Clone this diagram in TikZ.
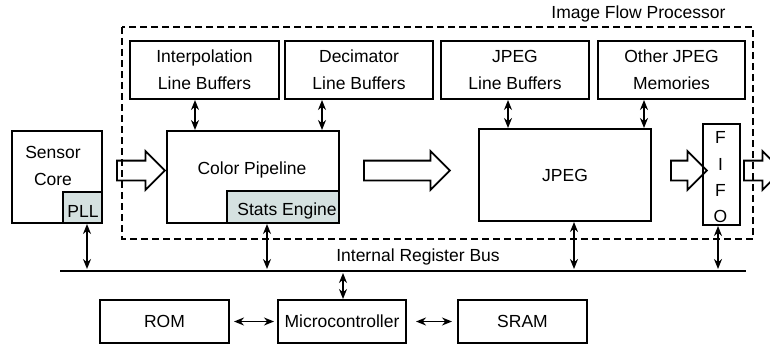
\documentclass[tikz,border=0pt]{standalone}
\usepackage{fontspec}
\setmainfont{Liberation Sans}
\usetikzlibrary{shapes.arrows, arrows.meta, positioning, calc}
\definecolor{statsgray}{RGB}{213, 225, 224}

\begin{document}
\begin{tikzpicture}[
  x=1pt, y=-1pt,
  every node/.style={font=\fontsize{17.5}{27}\selectfont},
  box/.style={draw, line width=2pt, anchor=north west, inner sep=0pt, align=center},
  subbox/.style={box, fill=statsgray},
  flowarrow/.style={single arrow, draw, line width=1.8pt, inner xsep=0pt, inner ysep=9pt,
    single arrow head extend=9.5pt, single arrow tip angle=90, minimum width=37pt},
  dbl/.style={{Stealth[length=10pt, width=8pt]}-{Stealth[length=10pt, width=8pt]}, line width=1.7pt}
]
  \useasboundingbox (0,0) rectangle (770,345);

  % Image flow processor frame
  \draw[dashed, dash pattern=on 7pt off 4pt, line width=1.5pt] (122,27) rectangle (753,239);
  \node[anchor=east] (ifplbl) at (729,14) {Image Flow Processor};

  % Memories on top
  \node[box, minimum width=149pt, minimum height=58pt] (interp) at (129,40) {Interpolation\\Line Buffers};
  \node[box, minimum width=148pt, minimum height=58pt] (decim) at (284,40) {Decimator\\Line Buffers};
  \node[box, minimum width=148pt, minimum height=58pt] (jpeglb) at (440,40) {JPEG\\Line Buffers};
  \node[box, minimum width=147pt, minimum height=58pt] (othermem) at (597,40) {Other JPEG\\Memories};

  % Sensor core
  \node[box, minimum width=90pt, minimum height=92pt] (sensor) at (11,130) {};
  \node (sensorlbl) at (53,166) [align=center] {Sensor\\Core};
  \node[subbox, minimum width=39pt, minimum height=31pt] (pll) at (62,191) {};
  \node (plllbl) at (83,211) {PLL};

  % Color pipeline
  \node[box, minimum width=172pt, minimum height=92pt] (color) at (166,130) {};
  \node (colorlbl) at (252,170) {Color Pipeline};
  \node[subbox, minimum width=112pt, minimum height=32pt] (stats) at (226,190) {};
  \node (statslbl) at (287,211) {Stats Engine};

  % JPEG and FIFO
  \node[box, minimum width=172pt, minimum height=92pt] (jpeg) at (478,128) {JPEG};
  \node[box, minimum width=37pt, minimum height=101pt] (fifo) at (702,123) {};
  \node (fifolbl) at (720.5,177.5) [align=center, font=\fontsize{17.5}{26.3}\selectfont] {F\\I\\F\\O};

  % Data flow
  \node[flowarrow, minimum height=48pt] (flow1) at (136,170.5) {};
  \node[flowarrow, minimum height=86pt] (flow2) at (402,170.5) {};
  \node[flowarrow, minimum height=36pt] (flow3) at (684,170.5) {};
  \node[flowarrow, minimum height=38pt] (flow4) at (758,170.5) {};

  % Memory accesses
  \draw[dbl] (interp.south -| 195,0) -- (color.north -| 195,0);
  \draw[dbl] (decim.south -| 322,0) -- (color.north -| 322,0);
  \draw[dbl] (jpeglb.south -| 508,0) -- (jpeg.north -| 508,0);
  \draw[dbl] (othermem.south -| 644,0) -- (jpeg.north -| 644,0);

  % Register bus
  \coordinate (busL) at (60,271);
  \coordinate (busR) at (746,271);
  \draw[line width=1.7pt] (busL) -- (busR);
  \node (buslbl) at (418,257) {Internal Register Bus};
  \draw[dbl] (pll.south -| 87,0) -- ($(busL -| 87,0)+(0,-2)$);
  \draw[dbl] (stats.south -| 267,0) -- ($(busL -| 267,0)+(0,-2)$);
  \draw[dbl] (jpeg.south -| 574,0) -- ($(busL -| 574,0)+(0,-2)$);
  \draw[dbl] (fifo.south -| 718,0) -- ($(busL -| 718,0)+(0,-2)$);

  % Microcontroller and memories
  \node[box, minimum width=129pt, minimum height=43pt] (rom) at (99,299) {ROM};
  \node[box, minimum width=128pt, minimum height=43pt] (micro) at (277,299) {Microcontroller};
  \node[box, minimum width=129pt, minimum height=43pt] (sram) at (457,299) {SRAM};
  \draw[dbl] ($(busL -| 343,0)+(0,2)$) -- (micro.north -| 343,0);
  \draw[dbl, shorten <=4pt, shorten >=3pt] (rom.east) -- (micro.west);
  \draw[dbl, shorten <=9pt, shorten >=5pt] (micro.east) -- (sram.west);
\end{tikzpicture}
\end{document}
